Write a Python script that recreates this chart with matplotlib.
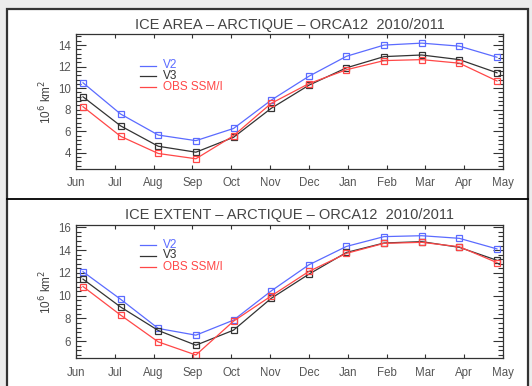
import matplotlib
matplotlib.use("Agg")
import matplotlib.pyplot as plt
from matplotlib.patches import Rectangle
from matplotlib.lines import Line2D
from matplotlib.ticker import MultipleLocator
import numpy as np

months = ["Jun", "Jul", "Aug", "Sep", "Oct", "Nov", "Dec", "Jan", "Feb", "Mar", "Apr", "May"]

area_v2 = [10.5, 7.6, 5.65, 5.13, 6.26, 8.89, 11.1, 12.96, 14.0, 14.18, 13.9, 12.87]
area_v3 = [9.2, 6.5, 4.61, 4.06, 5.44, 8.13, 10.27, 11.89, 12.93, 13.08, 12.65, 11.43]
area_obs = [8.28, 5.53, 3.94, 3.45, 5.59, 8.59, 10.42, 11.71, 12.56, 12.65, 12.32, 10.67]

ext_v2 = [12.1, 9.68, 7.12, 6.53, 7.85, 10.41, 12.7, 14.32, 15.18, 15.26, 15.03, 14.1]
ext_v3 = [11.45, 9.0, 6.94, 5.65, 6.97, 9.76, 11.88, 13.79, 14.62, 14.74, 14.24, 13.1]
ext_obs = [10.8, 8.29, 5.94, 4.79, 7.76, 9.97, 12.12, 13.71, 14.59, 14.68, 14.29, 12.9]

series_labels = ["V2", "V3", "OBS SSM/I"]
colors = ["#5b6bff", "#333333", "#ff4747"]

plt.rcParams['font.family'] = ['Liberation Sans', 'DejaVu Sans']

W, H = 532, 386
fig = plt.figure(figsize=(W / 100, H / 100), dpi=100)
fig.patch.set_facecolor("#ececec")

def fx(px):
    return px / W

def fy(py):
    return 1 - py / H

# white frame with border
fig.patches.append(Rectangle((fx(7), fy(400)), fx(528) - fx(7), fy(9) - fy(400),
                             transform=fig.transFigure, facecolor="white",
                             edgecolor="#333333", linewidth=1.6, zorder=-5))
fig.lines.append(Line2D([fx(7), fx(528)], [fy(199), fy(199)], transform=fig.transFigure,
                        color="black", linewidth=1.3, zorder=-4))

x = np.arange(len(months))
xlim = (-0.186, 11.16)
tickpos = np.linspace(xlim[0], xlim[1], len(months))

panels = [
    dict(top=34.3, bottom=169.0, ylim=(2.5, 15.0), major=2, minor=0.4,
         data=[area_v2, area_v3, area_obs],
         title="ICE AREA \u2013 ARCTIQUE \u2013 ORCA12  2010/2011", ty=25,
         leg=[65.5, 76, 87]),
    dict(top=225.0, bottom=358.3, ylim=(4.5, 16.2), major=2, minor=0.4,
         data=[ext_v2, ext_v3, ext_obs],
         title="ICE EXTENT \u2013 ARCTIQUE \u2013 ORCA12  2010/2011", ty=215,
         leg=[244.5, 255.5, 266.5]),
]

left, right = 76.0, 503.0
tc = "#555555"
for p in panels:
    ax = fig.add_axes([fx(left), fy(p["bottom"]), fx(right) - fx(left),
                       (p["bottom"] - p["top"]) / H])
    ax.set_facecolor("none")
    for ser, c in zip(p["data"], colors):
        ax.plot(x, ser, color=c, linewidth=0.9, marker="s", markersize=5,
                markerfacecolor="none", markeredgecolor=c, markeredgewidth=0.9)
    ax.set_xlim(*xlim)
    ax.set_ylim(*p["ylim"])
    ax.set_xticks(tickpos)
    ax.set_xticklabels(months)
    ax.yaxis.set_major_locator(MultipleLocator(p["major"]))
    ax.yaxis.set_minor_locator(MultipleLocator(p["minor"]))
    ax.tick_params(axis="both", which="both", direction="in", top=True, right=True,
                   colors="#333333", labelcolor=tc, labelsize=8.3)
    ax.tick_params(axis="y", which="major", length=7, width=0.8)
    ax.tick_params(axis="y", which="minor", length=3.5, width=0.8)
    ax.tick_params(axis="x", which="major", length=3, width=0.8, pad=6)
    for s in ax.spines.values():
        s.set_color("#333333")
        s.set_linewidth(0.9)
    ax.set_ylabel("10$^6$ km$^2$", color="#444444", fontsize=8.5, labelpad=3)
    fig.text(fx((left + right) / 2), fy(p["ty"]), p["title"], ha="center", va="center",
             fontsize=10.5, color="#444444")
    # legend
    for lab, c, ly in zip(series_labels, colors, p["leg"]):
        yy = fy(ly)
        fig.lines.append(Line2D([fx(140), fx(156)], [yy, yy], transform=fig.transFigure,
                                color=c, linewidth=0.9))
        fig.text(fx(163), yy, lab, color=c, fontsize=8.5, va="center", ha="left")

fig.savefig("out.png", dpi=100, facecolor=fig.get_facecolor())
